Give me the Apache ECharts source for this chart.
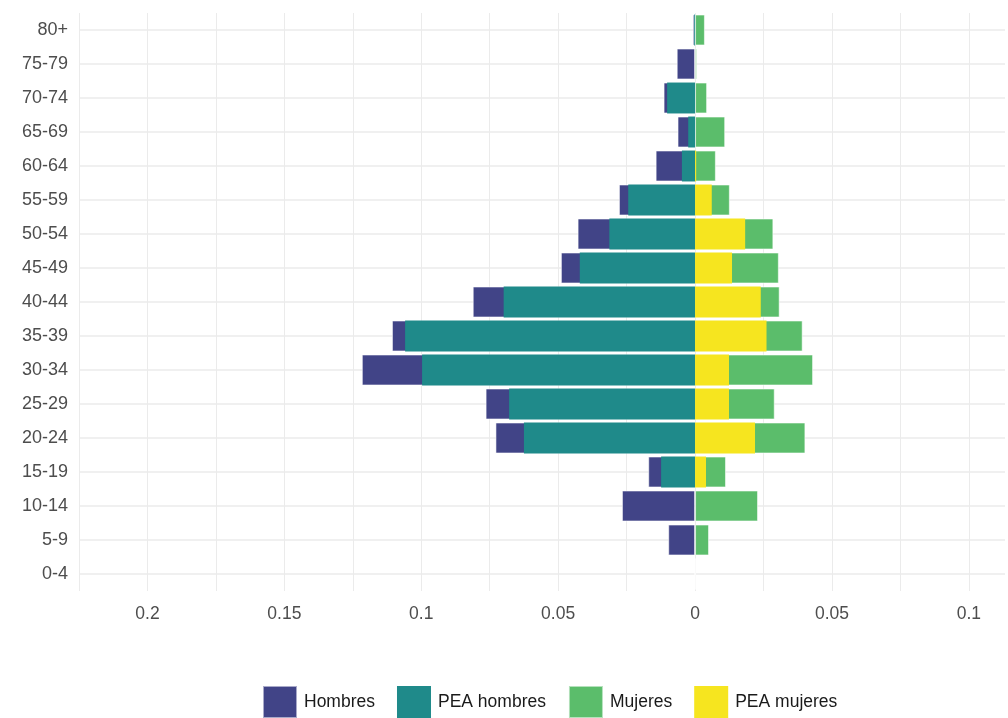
<!DOCTYPE html>
<html>
<head>
<meta charset="utf-8">
<script src="https://cdn.jsdelivr.net/npm/echarts@6/dist/echarts.min.js"></script>
<style>
html,body{margin:0;padding:0;background:#fff;overflow:hidden;}
#chart{width:1008px;height:718px;}
</style>
</head>
<body>
<div id="chart"></div>
<script>
// Age groups, bottom to top
var categories = ['0-4','5-9','10-14','15-19','20-24','25-29','30-34','35-39','40-44','45-49','50-54','55-59','60-64','65-69','70-74','75-79','80+'];
// Shares (men plotted to the left)
var hombres    = [0, 0.0098, 0.0267, 0.0171, 0.0729, 0.0765, 0.1217, 0.1107, 0.0812, 0.0490, 0.0429, 0.0278, 0.0144, 0.0064, 0.0115, 0.0067, 0.0008];
var peaHombres = [0, 0, 0, 0.0124, 0.0625, 0.0679, 0.0997, 0.1059, 0.0699, 0.0421, 0.0313, 0.0244, 0.0048, 0.0025, 0.0102, 0, 0.0003];
var mujeres    = [0, 0.0051, 0.0230, 0.0113, 0.0403, 0.0291, 0.0431, 0.0393, 0.0309, 0.0306, 0.0286, 0.0127, 0.0076, 0.0110, 0.0044, 0.0007, 0.0036];
var peaMujeres = [0, 0, 0, 0.0040, 0.0219, 0.0124, 0.0124, 0.0261, 0.0240, 0.0135, 0.0183, 0.0061, 0.0004, 0, 0, 0, 0];
var seriesNames = ['Hombres', 'PEA hombres', 'Mujeres', 'PEA mujeres'];
var colors = ['#414487', '#1F8A8A', '#5BBD6B', '#F6E51F'];

var chart = echarts.init(document.getElementById('chart'), null, {renderer: 'canvas', width: 1008, height: 718});

function neg(arr){ return arr.map(function(v){ return -v; }); }

var gridColor = '#EBEBEB';

var option = {
  animation: false,
  backgroundColor: '#ffffff',
  grid: {left: 79, width: 929, top: 13, height: 578, containLabel: false},
  legend: {
    data: seriesNames,
    left: 257,
    top: 680,
    itemWidth: 34,
    itemHeight: 32,
    itemGap: 22,
    icon: 'rect',
    textStyle: {fontFamily: 'Liberation Sans, Arial, sans-serif', fontSize: 17.5, color: '#1A1A1A', padding: [0, 0, 0, 2]}
  },
  xAxis: {
    type: 'value',
    min: -0.225,
    max: 0.1132,
    interval: 0.025,
    axisLine: {show: false},
    axisTick: {show: false},
    splitLine: {show: true, showMinLine: true, showMaxLine: false, lineStyle: {color: gridColor, width: 1}},
    axisLabel: {
      margin: 14,
      color: '#4D4D4D',
      fontFamily: 'Liberation Sans, Arial, sans-serif',
      fontSize: 17.5,
      formatter: function(v){
        var k = Math.round(Math.abs(v) * 1000);
        if (k % 50 !== 0) return '';
        return String(k / 1000);
      }
    }
  },
  yAxis: {
    type: 'category',
    data: categories,
    axisLine: {show: false},
    axisTick: {show: false},
    splitLine: {show: false},
    axisLabel: {
      margin: 11,
      color: '#4D4D4D',
      fontFamily: 'Liberation Sans, Arial, sans-serif',
      fontSize: 18
    }
  },
  series: [
    {
      name: seriesNames[0], type: 'bar', data: neg(hombres),
      barGap: '-100%', barCategoryGap: '9%', z: 2,
      itemStyle: {color: colors[0], borderColor: 'rgba(255,255,255,0.55)', borderWidth: 1},
      markLine: {
        silent: true, symbol: ['none','none'], z: 1,
        label: {show: false},
        lineStyle: {color: gridColor, type: 'solid', width: 1.5},
        emphasis: {disabled: true},
        data: categories.map(function(c){ return {yAxis: c}; })
      }
    },
    {
      name: seriesNames[1], type: 'bar', data: neg(peaHombres),
      barGap: '-100%', barCategoryGap: '9%', z: 3,
      itemStyle: {color: colors[1]}
    },
    {
      name: seriesNames[2], type: 'bar', data: mujeres,
      barGap: '-100%', barCategoryGap: '9%', z: 2,
      itemStyle: {color: colors[2], borderColor: 'rgba(255,255,255,0.55)', borderWidth: 1}
    },
    {
      name: seriesNames[3], type: 'bar', data: peaMujeres,
      barGap: '-100%', barCategoryGap: '9%', z: 3,
      itemStyle: {color: colors[3]}
    }
  ]
};
chart.setOption(option);
</script>
</body>
</html>
